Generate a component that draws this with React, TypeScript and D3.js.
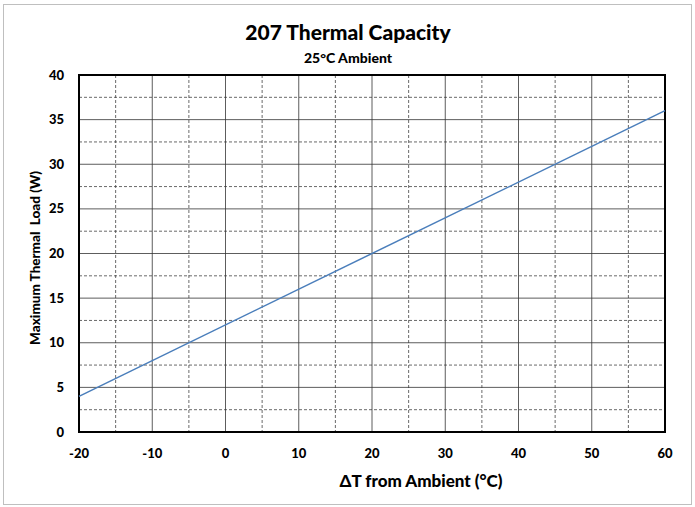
import React from 'react';
import { scaleLinear, line, range } from 'd3';

const width = 695;
const height = 507;
const margin = { left: 79, right: 30, top: 75, bottom: 75 };
const innerW = width - margin.left - margin.right;
const innerH = height - margin.top - margin.bottom;

const deltaT = [-20, 60];
const thermalLoad = [4, 36];
const xTicks = [-20, -10, 0, 10, 20, 30, 40, 50, 60];
const yTicks = [0, 5, 10, 15, 20, 25, 30, 35, 40];
const xMinor = [-15, -5, 5, 15, 25, 35, 45, 55];
const yMinor = [2.5, 7.5, 12.5, 17.5, 22.5, 27.5, 32.5, 37.5];

const x = scaleLinear().domain([-20, 60]).range([0, innerW]);
const y = scaleLinear().domain([0, 40]).range([innerH, 0]);

const font = 'Lato, "Open Sans", sans-serif';
const weight = 900;

const App = () => {
  const pts = range(deltaT.length).map((i) => [deltaT[i], thermalLoad[i]] as [number, number]);
  const path = line<[number, number]>()
    .x((d) => x(d[0]))
    .y((d) => y(d[1]))(pts) as string;
  return (
    <svg width={width} height={height} style={{ position: 'absolute', left: 0, top: 0 }}>
      <rect x={0} y={0} width={width} height={height} fill="white" />
      <rect x={3.5} y={4.5} width={688} height={500} fill="white" stroke="#bfbfbf" />
      <text x={348} y={40} textAnchor="middle" fontFamily={font} fontWeight={weight} fontSize={21}>
        207 Thermal Capacity
      </text>
      <text x={348} y={63} textAnchor="middle" fontFamily={font} fontWeight={weight} fontSize={14}>
        25°C Ambient
      </text>
      <g transform={`translate(${margin.left},${margin.top})`}>
        {yMinor.map((v) => (
          <line key={'ym' + v} x1={0} x2={innerW} y1={y(v)} y2={y(v)} stroke="#444" strokeWidth={0.8} strokeDasharray="3,2" />
        ))}
        {xMinor.map((v) => (
          <line key={'xm' + v} x1={x(v)} x2={x(v)} y1={0} y2={innerH} stroke="#444" strokeWidth={0.8} strokeDasharray="3,2" />
        ))}
        {yTicks.map((v) => (
          <line key={'y' + v} x1={0} x2={innerW} y1={y(v)} y2={y(v)} stroke="#333" strokeWidth={0.8} />
        ))}
        {xTicks.map((v) => (
          <line key={'x' + v} x1={x(v)} x2={x(v)} y1={0} y2={innerH} stroke="#333" strokeWidth={0.8} />
        ))}
        <rect x={0} y={0} width={innerW} height={innerH} fill="none" stroke="#000" strokeWidth={2} />
        <path d={path} fill="none" stroke="#4a7ebb" strokeWidth={1.5} />
        {yTicks.map((v) => (
          <text key={'yl' + v} x={-15} y={y(v)} dy="0.35em" textAnchor="end" fontFamily={font} fontWeight={weight} fontSize={13}>
            {v}
          </text>
        ))}
        {xTicks.map((v) => (
          <text key={'xl' + v} x={x(v)} y={innerH + 26} textAnchor="middle" fontFamily={font} fontWeight={weight} fontSize={13}>
            {v}
          </text>
        ))}
      </g>
      <text x={421} y={487} textAnchor="middle" fontFamily={font} fontWeight={weight} fontSize={17}>
        ΔT from Ambient (°C)
      </text>
      <text
        transform={`translate(40,${258}) rotate(-90)`}
        textAnchor="middle"
        fontFamily={font}
        fontWeight={weight}
        fontSize={13.5}
        style={{ whiteSpace: 'pre' }}
      >
        Maximum Thermal  Load (W)
      </text>
    </svg>
  );
};

export default App;
